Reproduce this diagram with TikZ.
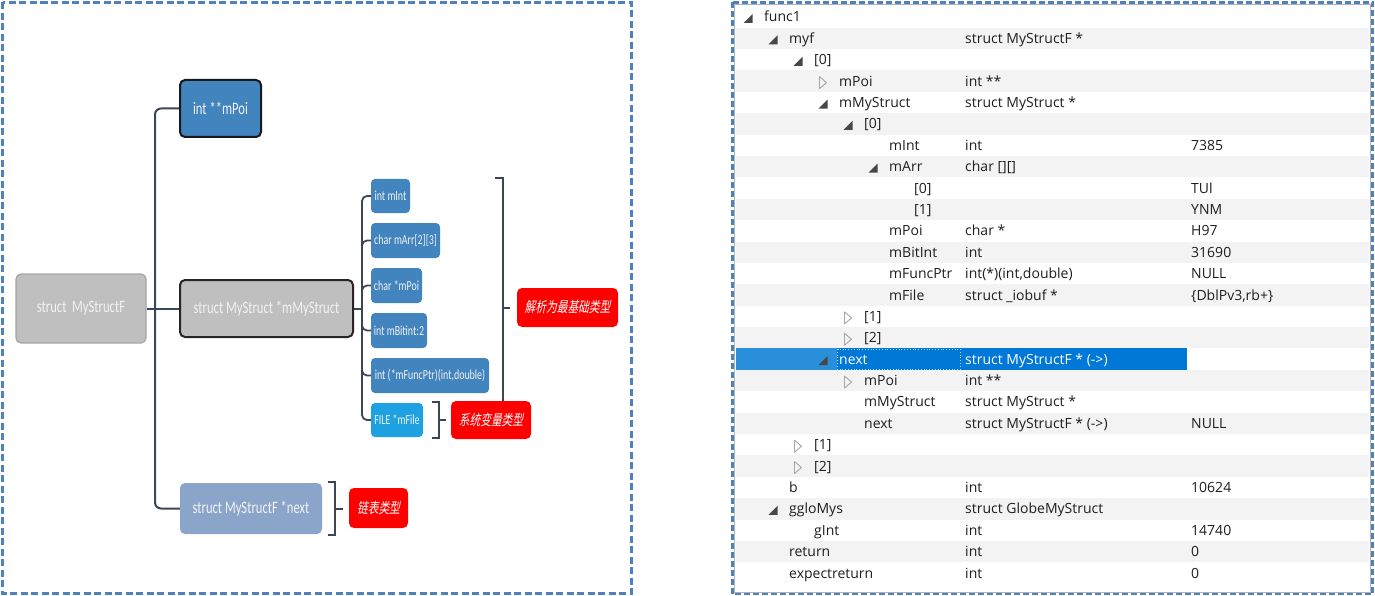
\documentclass[tikz,border=0pt]{standalone}
\usepackage{fontspec}
\newfontfamily\dbgfont{Open Sans}
\newfontfamily\boxfont[FakeStretch=0.72]{Carlito}
\newfontfamily\cjkfont[FakeSlant=0.2,FakeStretch=0.74]{Noto Sans CJK SC}

\definecolor{framec}{HTML}{4F81BD}
\definecolor{linkc}{HTML}{3B4658}
\definecolor{greyfill}{HTML}{BFBFBF}
\definecolor{steel}{HTML}{4284BE}
\definecolor{paleblue}{HTML}{8AA5C9}
\definecolor{skyblue}{HTML}{1EA1E1}
\definecolor{stripec}{HTML}{F3F3F3}
\definecolor{selleft}{HTML}{2A8FDB}
\definecolor{selcell}{HTML}{0078D7}
\definecolor{dbgtext}{HTML}{1E1E1E}

\tikzset{
  x=1pt, y=-1pt,
  frame/.style={draw=framec, line width=3pt, dash pattern=on 7pt off 3.5pt},
  box/.style={rounded corners=5pt, inner sep=0pt, text=white!95!black,
    font=\boxfont\fontsize{17.5}{19}\selectfont, align=center},
  small/.style={rounded corners=4pt, inner sep=0pt, text=white!95!black,
    font=\boxfont\fontsize{13.8}{15}\selectfont, fill=steel, minimum height=35pt},
  tag/.style={rounded corners=5pt, inner sep=0pt, fill=red, text=white,
    font=\cjkfont\fontsize{14.5}{16}\selectfont},
  link/.style={draw=linkc, line width=2pt, rounded corners=6pt},
  brk/.style={draw=linkc, line width=2pt},
  cell/.style={anchor=base west, inner sep=0pt, font=\dbgfont\fontsize{14}{16}\selectfont},
  pics/exp/.style={code={\fill[black!72] (-4.5,4.5) -- (4.5,4.5) -- (4.5,-4.5) -- cycle;}},
  pics/col/.style={code={\draw[black!35, line width=0.9pt, line join=round]
      (-3.5,-6) -- (-3.5,6) -- (3.5,0) -- cycle;}},
  pics/no/.style={code={}},
}

% one line of the watch window: index, depth, icon, name, type, value, text colour
\newcommand\dbgrow[7]{%
  \pgfmathsetmacro\rowy{17+21.385*#1}%
  \pgfmathsetmacro\rowx{764+25*#2}%
  \pic (r#1i) at ({\rowx-16},{\rowy+1.5}) {#3};
  \node[cell, text=#7] (r#1n) at (\rowx,{\rowy+5}) {#4};
  \node[cell, text=#7] (r#1t) at (965,{\rowy+5}) {#5};
  \node[cell, text=#7] (r#1v) at (1191,{\rowy+5}) {#6};
}

\begin{document}
\begin{tikzpicture}
\useasboundingbox (0,0) rectangle (1375,596);

% ---------------- structure tree ----------------
\draw[frame] (2.5,2.5) rectangle (631,593.5);

\node[box, fill=greyfill, draw=black!35, line width=1.2pt,
      minimum width=130pt, minimum height=69pt] (root) at (81,308.5) {struct\ \ MyStructF};
\node[box, fill=steel, draw=black!90, line width=2pt,
      minimum width=81pt, minimum height=57pt] (mpoi) at (220.5,108.5) {int **mPoi};
\node[box, fill=greyfill, draw=black!85, line width=2pt,
      minimum width=173pt, minimum height=57pt] (mmy) at (266.5,308.5) {struct MyStruct *mMyStruct};
\node[box, fill=paleblue, minimum width=142pt, minimum height=51pt] (nxt) at (251,508.5) {struct MyStructF *next};

\node[small, minimum width=39pt, minimum height=34pt] (cint) at (390.5,196) {int mInt};
\node[small, minimum width=69pt] (carr) at (405.5,240.5) {char mArr[2][3]};
\node[small, minimum width=51pt] (cpoi) at (396.5,285.5) {char *mPoi};
\node[small, minimum width=56pt] (cbit) at (399,330.5) {int mBitint:2};
\node[small, minimum width=118pt] (cfun) at (430,375.5) {int (*mFuncPtr)(int,double)};
\node[small, fill=skyblue, minimum width=52pt, minimum height=34pt] (cfile) at (397,420) {FILE *mFile};

% branches from the root
\coordinate (rj) at (155,308.5);
\draw[link] (root.east) -- (mmy.west);
\draw[link] (rj) |- (mpoi.west);
\draw[link] (rj) |- (nxt.west);

% branches from mMyStruct
\coordinate (cj) at (362,308.5);
\draw[link] (mmy.east) -- (cj);
\foreach \c in {cint,carr,cpoi,cbit,cfun,cfile}
  \draw[link, line width=1.8pt, rounded corners=5pt] (cj) |- (\c.west);

% brackets with their labels
\coordinate (ba) at (495,178);
\coordinate (bb) at (503,178);
\coordinate (bc) at (503,438);
\coordinate (bd) at (495,438);
\coordinate (bm) at (503,308);
\coordinate (bt) at (510,308);
\draw[brk] (ba) -- (bb) -- (bc) -- (bd);
\draw[brk] (bm) -- (bt);
\node[tag, minimum width=101pt, minimum height=39pt] (lbl1) at (567.5,307.5) {解析为最基础类型};

\coordinate (fa) at (432,402);
\coordinate (fb) at (439,402);
\coordinate (fc) at (439,438);
\coordinate (fd) at (432,438);
\coordinate (fm) at (439,420);
\coordinate (ft) at (446,420);
\draw[brk] (fa) -- (fb) -- (fc) -- (fd);
\draw[brk] (fm) -- (ft);
\node[tag, minimum width=80pt, minimum height=38pt] (lbl2) at (491,420) {系统变量类型};

\coordinate (na) at (328,482);
\coordinate (nb) at (335,482);
\coordinate (nc) at (335,535);
\coordinate (nd) at (328,535);
\coordinate (nm) at (335,508.5);
\coordinate (nt) at (343,508.5);
\draw[brk] (na) -- (nb) -- (nc) -- (nd);
\draw[brk] (nm) -- (nt);
\node[tag, minimum width=59pt, minimum height=40pt] (lbl3) at (378.5,508) {链表类型};

% ---------------- watch window ----------------
\foreach \i in {1,3,...,25}
  \fill[stripec] (736,{17+21.385*\i-10.7}) rectangle (1369,{17+21.385*\i+10.7});
% selected line
\fill[selleft] (736,{17+21.385*16-10.7}) rectangle (837,{17+21.385*16+10.7});
\fill[selcell] (837,{17+21.385*16-10.7}) rectangle (1187,{17+21.385*16+10.7});
\draw[white!70!selcell, line width=0.8pt, dotted] (837.5,{17+21.385*16-10.2}) rectangle (960,{17+21.385*16+10.2});
\draw[black!30, line width=1pt] (734.5,4.5) rectangle (1370,592);

\dbgrow{0}{0}{exp}{func1}{}{}{dbgtext}
\dbgrow{1}{1}{exp}{myf}{struct MyStructF *}{}{dbgtext}
\dbgrow{2}{2}{exp}{[0]}{}{}{dbgtext}
\dbgrow{3}{3}{col}{mPoi}{int **}{}{dbgtext}
\dbgrow{4}{3}{exp}{mMyStruct}{struct MyStruct *}{}{dbgtext}
\dbgrow{5}{4}{exp}{[0]}{}{}{dbgtext}
\dbgrow{6}{5}{no}{mInt}{int}{7385}{dbgtext}
\dbgrow{7}{5}{exp}{mArr}{char [][]}{}{dbgtext}
\dbgrow{8}{6}{no}{[0]}{}{TUl}{dbgtext}
\dbgrow{9}{6}{no}{[1]}{}{YNM}{dbgtext}
\dbgrow{10}{5}{no}{mPoi}{char *}{H97}{dbgtext}
\dbgrow{11}{5}{no}{mBitInt}{int}{31690}{dbgtext}
\dbgrow{12}{5}{no}{mFuncPtr}{int(*)(int,double)}{NULL}{dbgtext}
\dbgrow{13}{5}{no}{mFile}{struct \_iobuf *}{\{DblPv3,rb+\}}{dbgtext}
\dbgrow{14}{4}{col}{[1]}{}{}{dbgtext}
\dbgrow{15}{4}{col}{[2]}{}{}{dbgtext}
\dbgrow{16}{3}{exp}{next}{struct MyStructF * (->)}{}{white}
\dbgrow{17}{4}{col}{mPoi}{int **}{}{dbgtext}
\dbgrow{18}{4}{no}{mMyStruct}{struct MyStruct *}{}{dbgtext}
\dbgrow{19}{4}{no}{next}{struct MyStructF * (->)}{NULL}{dbgtext}
\dbgrow{20}{2}{col}{[1]}{}{}{dbgtext}
\dbgrow{21}{2}{col}{[2]}{}{}{dbgtext}
\dbgrow{22}{1}{no}{b}{int}{10624}{dbgtext}
\dbgrow{23}{1}{exp}{ggloMys}{struct GlobeMyStruct}{}{dbgtext}
\dbgrow{24}{2}{no}{gInt}{int}{14740}{dbgtext}
\dbgrow{25}{1}{no}{return}{int}{0}{dbgtext}
\dbgrow{26}{1}{no}{expectreturn}{int}{0}{dbgtext}

\draw[frame, line width=2.5pt, dash pattern=on 6pt off 3pt] (732.5,2.5) rectangle (1372.5,594);
\end{tikzpicture}
\end{document}
